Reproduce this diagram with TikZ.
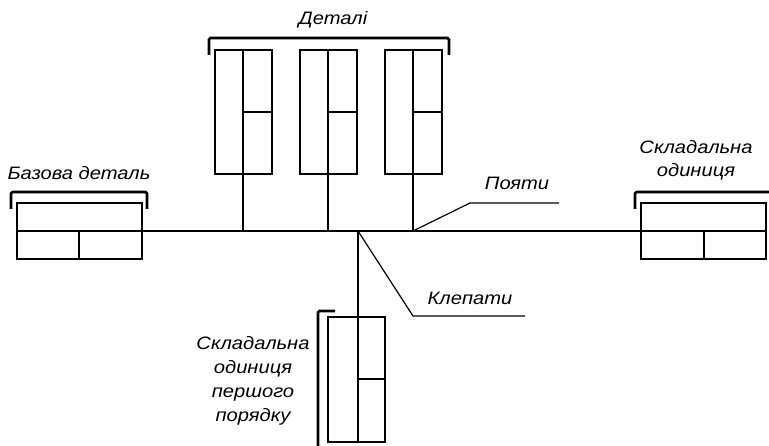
\documentclass[tikz,border=0pt]{standalone}
\usepackage{fontspec}
\setmainfont{Liberation Sans}
\newfontfamily\gostfont[FakeStretch=1.12]{Liberation Sans}
\begin{document}
\begin{tikzpicture}[x=1pt,y=-1pt,
  part/.style={line width=2.8pt, line join=miter},
  brace/.style={line width=2.8pt, rounded corners=1.5pt},
  lead/.style={line width=1.2pt},
  lbl/.style={font=\gostfont\itshape\fontsize{18}{21}\selectfont, inner sep=0pt, align=center}]
\useasboundingbox (0,0) rectangle (769,446);

% base part
\draw[part] (17,203) rectangle (142,259);
\draw[part] (17,231) -- (142,231);
\draw[part] (79,231) -- (79,259);
\draw[brace] (11,209) -- (11,192) -- (147,192) -- (147,209);
\node[lbl] (base) at (79,173) {Базова деталь};

% connecting coordinates on the main line
\coordinate (mL) at (142,231);
\coordinate (mR) at (641,231);
\coordinate (j1) at (243,231);
\coordinate (j2) at (328,231);
\coordinate (j3) at (413,231);
\coordinate (jc) at (358,231);
\draw[part] (mL) -- (mR);

% three parts
\foreach \x/\n in {215/a,300/b,385/c}{
  \draw[part] (\x,50) rectangle ({\x+57},174);
  \coordinate (top\n) at ({\x+28},50);
  \draw[part] ({\x+28},112) -- ({\x+57},112);
}
\draw[part] (topa) -- (j1);
\draw[part] (topb) -- (j2);
\draw[part] (topc) -- (j3);
\draw[brace] (209,55) -- (209,38) -- (449,38) -- (449,55);
\node[lbl] (parts) at (333,20) {Деталі};

% assembly unit on the right
\draw[part] (641,203) rectangle (766,259);
\draw[part] (641,231) -- (766,231);
\draw[part] (704,231) -- (704,259);
\draw[brace] (635,209) -- (635,192) -- (770,192);
\node[lbl] (unit) at (696,160) {Складальна\\[2pt]одиниця};

% first-order assembly unit below
\coordinate (sbot) at (358,442);
\draw[part] (jc) -- (sbot);
\draw[part] (328,317) rectangle (385,442);
\draw[part] (358,379) -- (385,379);
\draw[brace] (335,311) -- (318,311) -- (318,448);
\node[lbl] (sub) at (253,381) {Складальна\\[3pt]одиниця\\[3pt]першого\\[3pt]порядку};

% leaders
\coordinate (k1) at (470,203);
\coordinate (k2) at (559,203);
\draw[lead] (j3) -- (k1) -- (k2);
\node[lbl] (weld) at (517,183) {Пояти};
\coordinate (r1) at (413,316);
\coordinate (r2) at (525,316);
\draw[lead] (jc) -- (r1) -- (r2);
\node[lbl] (rivet) at (470,298) {Клепати};
\end{tikzpicture}
\end{document}
